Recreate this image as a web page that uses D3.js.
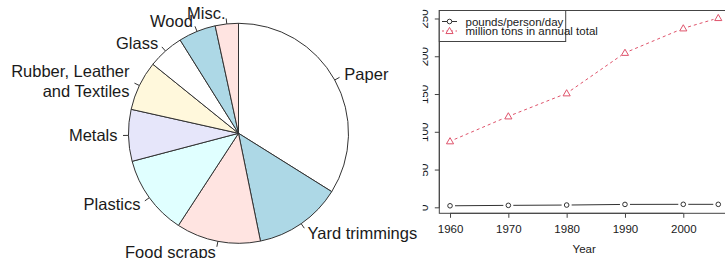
<!DOCTYPE html>
<html>
<head>
<meta charset="utf-8">
<script src="https://cdn.jsdelivr.net/npm/d3@7"></script>
<style>
  body { margin: 0; background: #fff; }
  svg { font-family: "Liberation Sans", Arial, sans-serif; }
</style>
</head>
<body>
<div id="chart"></div>
<script>
// pie: share of municipal solid waste (percent)
var materials = ['Paper', 'Yard trimmings', 'Food scraps', 'Plastics', 'Metals',
    'Rubber, Leather\nand Textiles', 'Glass', 'Wood', 'Misc.'];
var shares = [33.9, 12.9, 12.4, 11.7, 7.6, 7.3, 5.3, 5.5, 3.4];
var pieColors = ['#ffffff', '#add8e6', '#ffe4e1', '#e0ffff', '#e6e6fa', '#fff8dc'];

// line chart
var years = [1960, 1970, 1980, 1990, 2000, 2006];
var perCapita = [2.68, 3.25, 3.66, 4.50, 4.64, 4.60];
var totals = [88.1, 121.1, 151.6, 205.2, 237.6, 251.3];
var xTicks = [1960, 1970, 1980, 1990, 2000];
var yTicks = [0, 50, 100, 150, 200, 250];
var legendLabels = ['pounds/person/day', 'million tons in annual total'];

var width = 725;
var height = 258;

var svg = d3.select('#chart').append('svg')
    .attr('width', width)
    .attr('height', height);

// ---------- pie ----------
var cx = 238.5, cy = 133.3, radius = 110;

var pie = d3.pie().sort(null).value(function (d) { return d; });
var arcs = pie(shares);
var arc = d3.arc().innerRadius(0).outerRadius(radius);

var pieGroup = svg.append('g')
    .attr('transform', 'translate(' + cx + ',' + cy + ')');

pieGroup.selectAll('path.slice')
    .data(arcs)
    .enter().append('path')
    .attr('class', 'slice')
    .attr('d', arc)
    .attr('fill', function (d, i) { return pieColors[i % pieColors.length]; })
    .attr('stroke', '#333')
    .attr('stroke-width', 1);

function midAngle(d) { return (d.startAngle + d.endAngle) / 2; }

pieGroup.selectAll('line.tick')
    .data(arcs)
    .enter().append('line')
    .attr('x1', function (d) { return radius * Math.sin(midAngle(d)); })
    .attr('y1', function (d) { return -radius * Math.cos(midAngle(d)); })
    .attr('x2', function (d) { return 1.05 * radius * Math.sin(midAngle(d)); })
    .attr('y2', function (d) { return -1.05 * radius * Math.cos(midAngle(d)); })
    .attr('stroke', '#333')
    .attr('stroke-width', 1);

var lineGap = 20;
pieGroup.selectAll('text.label')
    .data(arcs)
    .enter().append('text')
    .attr('class', 'label')
    .attr('font-size', '16.5px')
    .attr('fill', '#1a1a1a')
    .attr('text-anchor', function (d) { return Math.sin(midAngle(d)) < 0 ? 'end' : 'start'; })
    .each(function (d, i) {
        var lines = materials[i].split('\n');
        var x = 1.1 * radius * Math.sin(midAngle(d));
        var y = -1.1 * radius * Math.cos(midAngle(d));
        var t = d3.select(this);
        lines.forEach(function (s, k) {
            t.append('tspan')
                .attr('x', x)
                .attr('y', y + (k - (lines.length - 1) / 2) * lineGap)
                .attr('dy', '0.35em')
                .text(s);
        });
    });

// ---------- line chart ----------
var plot = { left: 439.3, right: 729, top: 10.5, bottom: 213.3 };

var xMin = d3.min(years), xMax = d3.max(years);
var xPad = (xMax - xMin) * 0.04;
var x = d3.scaleLinear()
    .domain([xMin - xPad, xMax + xPad])
    .range([plot.left, plot.right]);

var allY = perCapita.concat(totals);
var yMin = d3.min(allY), yMax = d3.max(allY);
var yPad = (yMax - yMin) * 0.04;
var y = d3.scaleLinear()
    .domain([yMin - yPad, yMax + yPad])
    .range([plot.bottom, plot.top]);

var axisColor = '#444';

// box
svg.append('rect')
    .attr('x', plot.left)
    .attr('y', plot.top)
    .attr('width', plot.right - plot.left)
    .attr('height', plot.bottom - plot.top)
    .attr('fill', 'none')
    .attr('stroke', axisColor)
    .attr('stroke-width', 1);

// x axis
var xAxis = d3.axisBottom(x)
    .tickValues(xTicks)
    .tickSize(4.5)
    .tickPadding(7)
    .tickFormat(d3.format('d'));

var xg = svg.append('g')
    .attr('transform', 'translate(0,' + plot.bottom + ')')
    .call(xAxis);
xg.select('.domain')
    .attr('d', 'M' + x(xTicks[0]) + ',0H' + x(xTicks[xTicks.length - 1]))
    .attr('stroke', axisColor);
xg.selectAll('.tick line').attr('stroke', axisColor);
xg.selectAll('.tick text')
    .attr('font-size', '11.5px')
    .attr('font-family', '"Liberation Sans", Arial, sans-serif')
    .attr('fill', '#1a1a1a');

svg.append('text')
    .attr('x', (plot.left + plot.right) / 2)
    .attr('y', 252.5)
    .attr('text-anchor', 'middle')
    .attr('font-size', '11.5px')
    .attr('fill', '#1a1a1a')
    .text('Year');

// y axis (labels cut off by the panel edge)
svg.append('defs').append('clipPath')
    .attr('id', 'rightPanel')
    .append('rect')
    .attr('x', 422.7).attr('y', 0)
    .attr('width', width - 422.7).attr('height', height);

var yg = svg.append('g').attr('clip-path', 'url(#rightPanel)');
yg.selectAll('line.ytick')
    .data(yTicks)
    .enter().append('line')
    .attr('x1', plot.left - 4.5)
    .attr('x2', plot.left)
    .attr('y1', function (d) { return y(d); })
    .attr('y2', function (d) { return y(d); })
    .attr('stroke', axisColor);
yg.append('line')
    .attr('x1', plot.left).attr('x2', plot.left)
    .attr('y1', y(yTicks[0])).attr('y2', y(yTicks[yTicks.length - 1]))
    .attr('stroke', axisColor);
yg.selectAll('text.ylab')
    .data(yTicks)
    .enter().append('text')
    .attr('transform', function (d) { return 'translate(427.5,' + y(d) + ') rotate(-90)'; })
    .attr('text-anchor', 'middle')
    .attr('font-size', '11.5px')
    .attr('fill', '#1a1a1a')
    .text(function (d) { return d; });

// series drawn like R type="b": segments with gaps round the points
var gap = 5;
function gappedSegments(values) {
    var segs = [];
    for (var i = 0; i < values.length - 1; i++) {
        var x0 = x(years[i]), y0 = y(values[i]);
        var x1 = x(years[i + 1]), y1 = y(values[i + 1]);
        var len = Math.sqrt((x1 - x0) * (x1 - x0) + (y1 - y0) * (y1 - y0));
        var ux = (x1 - x0) / len, uy = (y1 - y0) / len;
        segs.push([[x0 + ux * gap, y0 + uy * gap], [x1 - ux * gap, y1 - uy * gap]]);
    }
    return segs;
}
var line = d3.line();

var blackCol = '#333';
var redCol = '#df536b';

svg.append('g').selectAll('path')
    .data(gappedSegments(perCapita))
    .enter().append('path')
    .attr('d', line)
    .attr('fill', 'none')
    .attr('stroke', blackCol)
    .attr('stroke-width', 1);

svg.append('g').selectAll('circle')
    .data(perCapita)
    .enter().append('circle')
    .attr('cx', function (d, i) { return x(years[i]); })
    .attr('cy', function (d) { return y(d); })
    .attr('r', 2.3)
    .attr('fill', 'none')
    .attr('stroke', blackCol)
    .attr('stroke-width', 1);

svg.append('g').selectAll('path')
    .data(gappedSegments(totals))
    .enter().append('path')
    .attr('d', line)
    .attr('fill', 'none')
    .attr('stroke', redCol)
    .attr('stroke-width', 1)
    .attr('stroke-dasharray', '3,3');

var tri = d3.symbol().type(d3.symbolTriangle).size(22);
svg.append('g').selectAll('path')
    .data(totals)
    .enter().append('path')
    .attr('d', tri)
    .attr('transform', function (d, i) { return 'translate(' + x(years[i]) + ',' + (y(d) + 0.5) + ')'; })
    .attr('fill', 'none')
    .attr('stroke', redCol)
    .attr('stroke-width', 1);

// legend
var legend = { x: plot.left, y: plot.top, w: 126.4, h: 31 };
svg.append('rect')
    .attr('x', legend.x).attr('y', legend.y)
    .attr('width', legend.w).attr('height', legend.h)
    .attr('fill', '#fff')
    .attr('stroke', axisColor);

var rowY = [21.5, 31];
var lg = svg.append('g');
lg.append('line')
    .attr('x1', 442).attr('x2', 457).attr('y1', rowY[0]).attr('y2', rowY[0])
    .attr('stroke', blackCol);
lg.append('circle')
    .attr('cx', 449.5).attr('cy', rowY[0]).attr('r', 2.3)
    .attr('fill', '#fff').attr('stroke', blackCol);
lg.append('line')
    .attr('x1', 442).attr('x2', 457).attr('y1', rowY[1]).attr('y2', rowY[1])
    .attr('stroke', redCol).attr('stroke-dasharray', '2,2.5');
lg.append('path')
    .attr('d', tri)
    .attr('transform', 'translate(449.5,' + (rowY[1] + 0.5) + ')')
    .attr('fill', '#fff').attr('stroke', redCol);
lg.selectAll('text')
    .data(legendLabels)
    .enter().append('text')
    .attr('x', 465.5)
    .attr('y', function (d, i) { return rowY[i]; })
    .attr('dy', '0.35em')
    .attr('font-size', '11.5px')
    .attr('fill', '#1a1a1a')
    .text(function (d) { return d; });
</script>
</body>
</html>
